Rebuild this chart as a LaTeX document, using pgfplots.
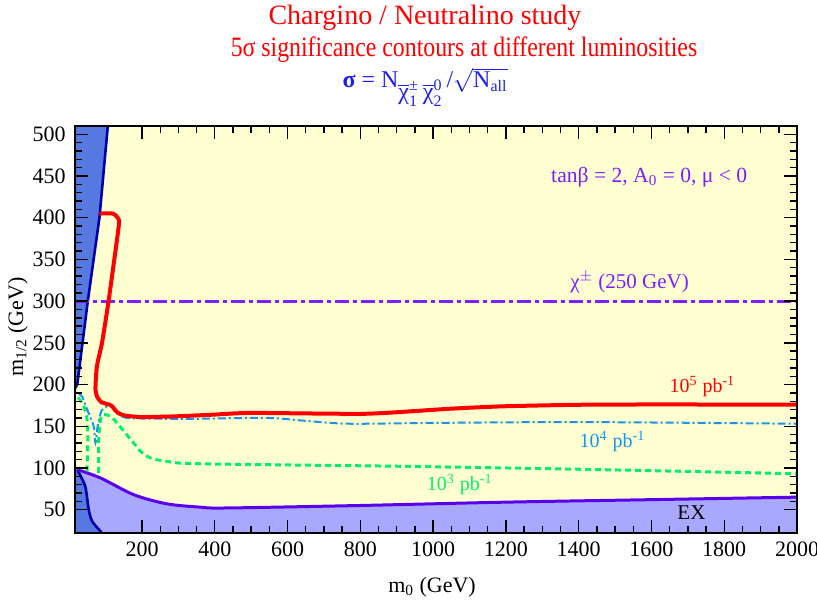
\documentclass[border=0pt]{standalone}
\usepackage{pgfplots}
\pgfplotsset{compat=1.18}
\usepackage{graphicx}
\usepackage{amsmath}
\usepackage{fontspec}
\setmainfont{Liberation Serif}
\definecolor{bgy}{RGB}{255,255,210}
\definecolor{dblue}{RGB}{85,120,225}
\definecolor{lav}{RGB}{168,168,255}
\definecolor{navy}{RGB}{0,0,170}
\definecolor{exline}{RGB}{90,0,235}
\definecolor{purp}{RGB}{125,30,255}
\definecolor{cred}{RGB}{255,0,0}
\definecolor{cblue}{RGB}{20,150,240}
\definecolor{cgreen}{RGB}{0,240,110}
\definecolor{fblue}{RGB}{30,30,235}
\begin{document}
\begin{tikzpicture}
\useasboundingbox (0,0) rectangle (408.5pt,300pt);
\begin{axis}[
  at={(37.35pt,33.5pt)}, anchor=south west,
  scale only axis, width=361.15pt, height=203.5pt,
  xmin=15, xmax=2000, ymin=22, ymax=510,
  xtick={200,400,600,800,1000,1200,1400,1600,1800,2000},
  xticklabels={200,400,600,800,1000,1200,1400,1600,1800,2000},
  ytick={50,100,150,200,250,300,350,400,450,500},
  yticklabels={50,100,150,200,250,300,350,400,450,500},
  minor x tick num=3, minor y tick num=4,
  tick align=inside, xtick pos=both, ytick pos=both,
  major tick length=6.5pt, minor tick length=3.5pt,
  tick style={black, line width=0.7pt},
  axis line style={line width=1pt},
  axis background/.style={fill=bgy},
  ticklabel style={font=\rmfamily\fontsize{11}{13}\selectfont},
  xticklabel style={yshift=-1pt},
  yticklabel style={xshift=-1pt},
  axis on top,
]
% EX region
\addplot[fill=lav, draw=none] coordinates {
 (15,22) (15,98) (22,98) (86,88) (177,68) (268,57) (360,53) (430,52) (800,55) (1200,59) (1600,62) (2000,65) (2000,22)};
% dark blue bottom-left
\addplot[fill=dblue, draw=none] coordinates {
 (15,22) (15,98) (22,98) (44,78) (53.5,50) (63,36) (86,24) (90,22)};
% dark blue top-left
\addplot[fill=dblue, draw=none] coordinates {
 (15,198) (22,200) (51,300) (83,400) (106,510) (15,510)};
% boundaries
\addplot[navy, line width=1.3pt, smooth, tension=0.4] coordinates {
 (22,98) (44,78) (53.5,50) (63,36) (86,24) (92,20)};
\addplot[navy, line width=1.3pt] coordinates {
 (15,195) (22,200) (51,300) (83,400) (106,510)};
\addplot[exline, line width=1.5pt, smooth, tension=0.5] coordinates {
 (22,98) (86,88) (177,68) (268,57) (360,53) (430,52) (800,55) (1200,59) (1600,62) (2000,65)};
% chargino line
\addplot[purp, line width=1.5pt, dash pattern=on 7pt off 2pt on 2pt off 2pt] coordinates {(15,300) (2000,300)};
% 10^3 green
\addplot[cgreen, line width=1.5pt, dash pattern=on 3pt off 2pt, smooth, tension=0.5] coordinates {
 (49,96) (51,134) (49,158) (40,174) (22,186)};
\addplot[cgreen, line width=1.5pt, dash pattern=on 3pt off 2pt, smooth, tension=0.5] coordinates {
 (81,94) (81,134) (86,158) (95,164) (113,162) (127,156) (154,142) (177,130) (196,120) (223,112) (268,108) (360,105) (909,102) (1457,98) (2000,93)};
% 10^4 blue
\addplot[cblue, line width=1pt, dash pattern=on 4pt off 1.5pt on 1pt off 1.5pt, smooth, tension=0.5] coordinates {
 (26,188) (35,186) (53,166) (67,150) (72,130) (78,150) (88,168) (100,173) (113,174) (128,170) (140,164) (159,160) (250,159) (360,159) (543,160) (662,156) (772,153) (1000,154) (1411,155) (2000,153)};
% 10^5 red
\addplot[cred, line width=2pt, smooth, tension=0.35] coordinates {
 (83,405) (120,405) (133,400) (136,390) (108,300) (90,250) (76,222) (72,195) (76,186) (88,179) (115,175) (131,167) (150,163) (200,161) (300,162) (400,164) (500,166) (817,165) (1046,171) (1200,174) (1457,176) (2000,176)};
% labels
\node[purp, font=\fontsize{10.8}{12}\selectfont] at (axis cs:1594,449) {tanβ = 2, A$_{\text{0}}$ = 0, μ < 0};
\node[purp, font=\fontsize{10.5}{12}\selectfont] at (axis cs:1540,323) {χ$^{\pm}$ (250 GeV)};
\node[cred, font=\fontsize{10}{12}\selectfont] at (axis cs:1740,198) {10$^{\text{5}}$ pb$^{\text{-1}}$};
\node[cblue, font=\fontsize{10}{12}\selectfont] at (axis cs:1493,132) {10$^{\text{4}}$ pb$^{\text{-1}}$};
\node[cgreen, font=\fontsize{10}{12}\selectfont] at (axis cs:1073,80) {10$^{\text{3}}$ pb$^{\text{-1}}$};
\node[black, font=\fontsize{10.5}{12}\selectfont] at (axis cs:1710,46) {EX};
\end{axis}
\node[anchor=base, font=\fontsize{11}{13}\selectfont] at (216pt,4pt) {m$_{\text{0}}$ (GeV)};
\node[anchor=base, rotate=90, font=\fontsize{11}{13}\selectfont] at (11.5pt,136.5pt) {m$_{\text{1/2}}$ (GeV)};
\node[anchor=base, cred, font=\fontsize{14}{16}\selectfont] at (212.5pt,287.5pt) {Chargino / Neutralino study};
\node[anchor=base, cred, font=\fontsize{14}{16}\selectfont] at (232pt,271.5pt) {\scalebox{0.85}[1]{5σ significance contours at different luminosities}};
\node[anchor=base, fblue, font=\fontsize{12}{14}\selectfont] at (212.5pt,256pt) {\textbf{σ} = N\raisebox{-6pt}{$\overline{\text{χ}}^{\text{±}}_{\text{1}}\,\overline{\text{χ}}^{\text{0}}_{\text{2}}$}\,/$\sqrt{\text{N}_{\text{all}}}$};
\end{tikzpicture}
\end{document}
